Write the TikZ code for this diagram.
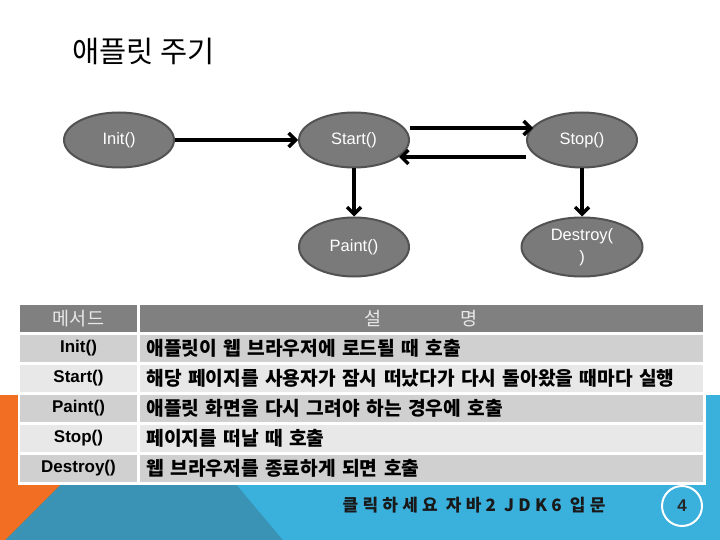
\documentclass[tikz,border=0pt]{standalone}
\usepackage{fontspec}
\setmainfont{Liberation Sans}
\newfontfamily\kr{Noto Sans CJK KR}
\usetikzlibrary{arrows.meta, positioning, shapes.geometric}

\definecolor{nodegray}{RGB}{122,122,122}
\definecolor{nodeedge}{RGB}{82,82,82}
\definecolor{headgray}{RGB}{128,128,128}
\definecolor{rowdark}{RGB}{208,208,208}
\definecolor{rowlight}{RGB}{232,232,232}
\definecolor{bgorange}{RGB}{242,110,34}
\definecolor{bgteal}{RGB}{58,146,180}
\definecolor{bgblue}{RGB}{58,176,220}

\begin{document}
\begin{tikzpicture}[x=1pt, y=-1pt, >={Straight Barb[length=7pt,width=14pt]},
    state/.style={draw=nodeedge, line width=2pt, fill=nodegray, ellipse,
                  minimum width=110pt, minimum height=55pt, inner sep=0pt,
                  align=center, text=white, font=\fontsize{16.5}{22}\selectfont},
    flow/.style={->, line width=3.5pt},
    cell/.style={draw=none, minimum height=27pt, inner ysep=0pt},
    namecell/.style={cell, minimum width=117pt, inner xsep=0pt,
                     font=\fontsize{17}{20}\selectfont\bfseries},
    desccell/.style={cell, minimum width=563.5pt, text width=549.5pt,
                     inner xsep=7pt, align=left,
                     font=\kr\fontsize{19.2}{20}\selectfont\bfseries},
    node distance=0pt
  ]
  \useasboundingbox (0,0) rectangle (720,540);

  % Background
  \fill[white] (0,0) rectangle (720,540);
  \fill[bgteal] (0,395) rectangle (720,540);
  \fill[bgorange] (0,395) -- (150,395) -- (5,540) -- (0,540) -- cycle;
  \fill[bgblue] (161,395) -- (720,395) -- (720,540) -- (283,540) -- cycle;

  % Title
  \node[anchor=west, inner sep=0pt, font=\kr\fontsize{29.5}{32}\selectfont]
    (title) at (72,51) {애플릿 주기};

  % Nodes
  \node[state] (init) at (119,140) {Init()};
  \node[state, right=123pt of init] (start) {Start()};
  \node[state, right=116pt of start] (stop) {Stop()};
  \node[state, minimum height=59pt, below=48pt of start] (paint) {Paint()};
  \node[state, minimum width=121pt, minimum height=59pt, below=48pt of stop]
    (destroy) {Destroy(\\)};

  % Arrows
  \draw[flow] (init.east) -- (start.west);
  \draw[flow] ([yshift=12pt]start.east) -- ([xshift=7pt,yshift=12pt]stop.west);
  \draw[flow] ([yshift=-17pt]stop.west) -- ([xshift=-11pt,yshift=-17pt]start.east);
  \draw[flow] (start.south) -- (paint.north);
  \draw[flow] (stop.south) -- (destroy.north);

  % Table
  \fill[white] (18,302) rectangle (706,485);
  \node[namecell, fill=headgray, text=rowlight, font=\kr\fontsize{18.5}{20}\selectfont]
    (m0) at (78.5,318.5) {메서드};
  \node[cell, fill=headgray, minimum width=563.5pt, text=rowlight,
        font=\kr\fontsize{18.5}{20}\selectfont]
    (d0) at (421.25,318.5) {설\hspace{79pt}명};
  \foreach \name/\desc [count=\i] in {
      Init()/애플릿이 웹 브라우저에 로드될 때 호출,
      Start()/해당 페이지를 사용자가 잠시 떠났다가 다시 돌아왔을 때마다 실행,
      Paint()/애플릿 화면을 다시 그려야 하는 경우에 호출,
      Stop()/페이지를 떠날 때 호출,
      Destroy()/웹 브라우저를 종료하게 되면 호출} {
    \pgfmathsetmacro{\rowy}{318.5+29.9*\i}
    \ifodd\i \def\rowfill{rowdark}\else \def\rowfill{rowlight}\fi
    \node[namecell, fill=\rowfill] (m\i) at (78.5,\rowy) {\name};
    \node[desccell, fill=\rowfill] (d\i) at (421.25,\rowy) {\desc};
  }

  % Footer
  \node[inner sep=0pt, text=black!90,
        font=\kr\fontsize{17}{20}\selectfont\bfseries\addfontfeature{LetterSpace=25}]
    (footer) at (474,505) {클릭하세요 자바2 JDK6 입문};
  \node[circle, draw=white, line width=2pt, minimum size=40pt, inner sep=0pt,
        font=\fontsize{17}{20}\selectfont\bfseries, text=black!85]
    (pagenum) at (682,506) {4};
\end{tikzpicture}
\end{document}
